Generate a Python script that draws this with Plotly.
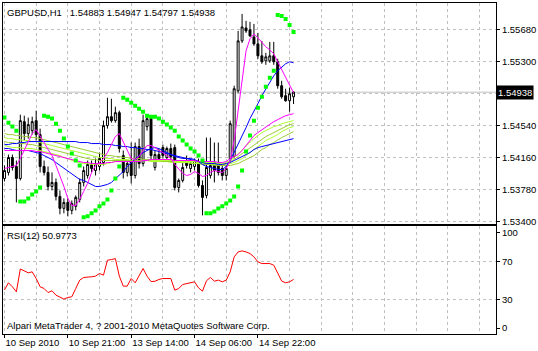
import plotly.graph_objects as go

# ---------------- data ----------------
bars = list(range(74))

open_ = [1.53910, 1.53982, 1.54160, 1.54053, 1.53910, 1.54587, 1.54445, 1.54480, 1.54599, 1.54433,
         1.54053, 1.53982, 1.53815, 1.53863, 1.53697, 1.53554, 1.53625, 1.53530, 1.53578, 1.53661,
         1.53863, 1.53946, 1.54077, 1.54005, 1.54053, 1.54100, 1.54540, 1.54646, 1.54599, 1.54694,
         1.54183, 1.53982, 1.54124, 1.53946, 1.54290, 1.54088, 1.54528, 1.54623, 1.54041, 1.54195,
         1.54278, 1.54160, 1.54267, 1.54278, 1.53803, 1.53887, 1.54124, 1.54029, 1.54053, 1.54088,
         1.53827, 1.53708, 1.53946, 1.54100, 1.54088, 1.54029, 1.53946, 1.54148, 1.54172, 1.54955,
         1.55549, 1.55703, 1.55680, 1.55596, 1.55513, 1.55371, 1.55311, 1.55311, 1.55371, 1.55300,
         1.55015, 1.54896, 1.54836, 1.54883]
high = [1.54065, 1.54195, 1.54195, 1.54124, 1.54670, 1.54658, 1.54635, 1.54646, 1.54718, 1.54504,
        1.54124, 1.54053, 1.53982, 1.53910, 1.53768, 1.53673, 1.53673, 1.53649, 1.53708, 1.53910,
        1.54053, 1.54124, 1.54124, 1.54148, 1.54219, 1.54599, 1.54872, 1.54860, 1.54765, 1.54718,
        1.54243, 1.54124, 1.54338, 1.54338, 1.54385, 1.54670, 1.54646, 1.54646, 1.54243, 1.54267,
        1.54314, 1.54290, 1.54326, 1.54314, 1.53910, 1.54124, 1.54183, 1.54124, 1.54148, 1.54148,
        1.53887, 1.54397, 1.54397, 1.54338, 1.54338, 1.54065, 1.54065, 1.54599, 1.55015, 1.55668,
        1.55870, 1.55787, 1.55775, 1.55751, 1.55644, 1.55549, 1.55406, 1.55537, 1.55537, 1.55335,
        1.55074, 1.54979, 1.54991, 1.54947]
low = [1.53875, 1.53946, 1.54005, 1.53625, 1.53887, 1.54362, 1.54385, 1.54433, 1.54362, 1.53982,
       1.53946, 1.53768, 1.53768, 1.53649, 1.53483, 1.53495, 1.53459, 1.53483, 1.53530, 1.53625,
       1.53815, 1.53910, 1.53982, 1.53946, 1.54005, 1.54065, 1.54504, 1.54575, 1.54575, 1.54219,
       1.53910, 1.53934, 1.53851, 1.53910, 1.54029, 1.54053, 1.54480, 1.54124, 1.54005, 1.54124,
       1.54148, 1.54124, 1.54124, 1.53768, 1.53744, 1.53863, 1.54029, 1.53982, 1.54005, 1.53803,
       1.53471, 1.53673, 1.53910, 1.53863, 1.53946, 1.53887, 1.53887, 1.54100, 1.54148, 1.54931,
       1.55525, 1.55644, 1.55596, 1.55490, 1.55335, 1.55276, 1.55264, 1.55288, 1.55264, 1.54979,
       1.54860, 1.54825, 1.54706, 1.54797]
close = [1.54005, 1.54160, 1.54041, 1.53910, 1.54599, 1.54445, 1.54552, 1.54587, 1.54433, 1.54053,
         1.53982, 1.53815, 1.53863, 1.53697, 1.53554, 1.53625, 1.53530, 1.53613, 1.53685, 1.53863,
         1.54005, 1.54077, 1.54029, 1.54088, 1.54148, 1.54540, 1.54646, 1.54599, 1.54694, 1.54267,
         1.53982, 1.54088, 1.53946, 1.54290, 1.54088, 1.54599, 1.54623, 1.54183, 1.54195, 1.54148,
         1.54183, 1.54267, 1.54172, 1.53803, 1.53887, 1.54041, 1.54065, 1.54088, 1.54124, 1.53827,
         1.53685, 1.54041, 1.54065, 1.54005, 1.53982, 1.53946, 1.54029, 1.54563, 1.54979, 1.55549,
         1.55715, 1.55668, 1.55608, 1.55513, 1.55371, 1.55300, 1.55359, 1.55371, 1.55300, 1.55015,
         1.54884, 1.54836, 1.54920, 1.54938]

ma_fast_magenta = [1.54029, 1.54041, 1.54053, 1.54065, 1.54148, 1.54243, 1.54350, 1.54445, 1.54492, 1.54421,
                   1.54338, 1.54255, 1.54183, 1.54065, 1.53946, 1.53815, 1.53673, 1.53590, 1.53590, 1.53661,
                   1.53756, 1.53851, 1.53982, 1.54065, 1.54100, 1.54148, 1.54219, 1.54314, 1.54409, 1.54445,
                   1.54350, 1.54243, 1.54148, 1.54136, 1.54172, 1.54243, 1.54302, 1.54302, 1.54278, 1.54243,
                   1.54219, 1.54183, 1.54148, 1.54077, 1.54017, 1.53970, 1.53946, 1.53958, 1.53993, 1.53970,
                   1.53934, 1.53946, 1.53982, 1.54005, 1.53993, 1.53982, 1.54029, 1.54124, 1.54362, 1.54718,
                   1.55133, 1.55430, 1.55573, 1.55632, 1.55585, 1.55525, 1.55478, 1.55442, 1.55395, 1.55300,
                   1.55205, 1.55110, 1.55015, 1.54931]
ma_slow_magenta = [1.54243, 1.54243, 1.54243, 1.54243, 1.54243, 1.54243, 1.54243, 1.54243, 1.54231, 1.54231,
                   1.54219, 1.54207, 1.54195, 1.54183, 1.54172, 1.54160, 1.54148, 1.54136, 1.54124, 1.54112,
                   1.54100, 1.54100, 1.54088, 1.54088, 1.54088, 1.54088, 1.54100, 1.54100, 1.54112, 1.54112,
                   1.54112, 1.54112, 1.54112, 1.54112, 1.54112, 1.54124, 1.54124, 1.54136, 1.54136, 1.54136,
                   1.54136, 1.54136, 1.54136, 1.54124, 1.54124, 1.54124, 1.54124, 1.54124, 1.54124, 1.54112,
                   1.54112, 1.54112, 1.54112, 1.54112, 1.54100, 1.54100, 1.54112, 1.54148, 1.54172, 1.54195,
                   1.54243, 1.54302, 1.54362, 1.54421, 1.54457, 1.54492, 1.54528, 1.54563, 1.54587, 1.54611,
                   1.54635, 1.54658, 1.54670, 1.54682]
ma_fast_blue = [1.54267, 1.54267, 1.54255, 1.54243, 1.54243, 1.54243, 1.54243, 1.54231, 1.54219, 1.54207,
                1.54183, 1.54160, 1.54136, 1.54100, 1.54065, 1.54029, 1.53993, 1.53958, 1.53922, 1.53898,
                1.53887, 1.53863, 1.53839, 1.53815, 1.53815, 1.53827, 1.53839, 1.53863, 1.53910, 1.53946,
                1.53993, 1.54053, 1.54100, 1.54148, 1.54183, 1.54219, 1.54243, 1.54267, 1.54278, 1.54267,
                1.54243, 1.54219, 1.54195, 1.54172, 1.54160, 1.54148, 1.54148, 1.54148, 1.54136, 1.54112,
                1.54077, 1.54053, 1.54041, 1.54029, 1.54017, 1.54017, 1.54053, 1.54124, 1.54219, 1.54326,
                1.54421, 1.54516, 1.54623, 1.54706, 1.54801, 1.54896, 1.54979, 1.55062, 1.55133, 1.55193,
                1.55240, 1.55276, 1.55300, 1.55288]
ma_slow_blue = [1.54314, 1.54314, 1.54326, 1.54326, 1.54338, 1.54338, 1.54350, 1.54350, 1.54350, 1.54350,
                1.54350, 1.54350, 1.54350, 1.54350, 1.54350, 1.54350, 1.54350, 1.54350, 1.54350, 1.54338,
                1.54338, 1.54338, 1.54326, 1.54326, 1.54326, 1.54314, 1.54314, 1.54314, 1.54302, 1.54302,
                1.54290, 1.54290, 1.54278, 1.54278, 1.54267, 1.54267, 1.54255, 1.54255, 1.54243, 1.54231,
                1.54219, 1.54207, 1.54195, 1.54183, 1.54172, 1.54160, 1.54148, 1.54136, 1.54124, 1.54112,
                1.54100, 1.54088, 1.54088, 1.54088, 1.54077, 1.54077, 1.54088, 1.54100, 1.54124, 1.54148,
                1.54172, 1.54195, 1.54219, 1.54255, 1.54278, 1.54290, 1.54302, 1.54314, 1.54326, 1.54338,
                1.54350, 1.54362, 1.54373, 1.54385]
ma_green_1 = [1.54302, 1.54290, 1.54278, 1.54278, 1.54278, 1.54267, 1.54267, 1.54267, 1.54255, 1.54243,
              1.54231, 1.54219, 1.54207, 1.54195, 1.54183, 1.54160, 1.54148, 1.54124, 1.54112, 1.54100,
              1.54088, 1.54088, 1.54077, 1.54077, 1.54077, 1.54077, 1.54088, 1.54100, 1.54112, 1.54112,
              1.54112, 1.54112, 1.54112, 1.54112, 1.54112, 1.54124, 1.54124, 1.54124, 1.54124, 1.54124,
              1.54124, 1.54124, 1.54124, 1.54112, 1.54112, 1.54112, 1.54112, 1.54112, 1.54112, 1.54100,
              1.54100, 1.54100, 1.54100, 1.54100, 1.54088, 1.54088, 1.54100, 1.54124, 1.54160, 1.54207,
              1.54255, 1.54302, 1.54350, 1.54385, 1.54421, 1.54457, 1.54480, 1.54504, 1.54528, 1.54540,
              1.54563, 1.54575, 1.54587, 1.54599]
ma_green_2 = [1.54350, 1.54338, 1.54338, 1.54326, 1.54326, 1.54326, 1.54314, 1.54314, 1.54302, 1.54290,
              1.54278, 1.54267, 1.54255, 1.54243, 1.54231, 1.54219, 1.54207, 1.54195, 1.54183, 1.54172,
              1.54160, 1.54148, 1.54136, 1.54136, 1.54124, 1.54124, 1.54124, 1.54124, 1.54124, 1.54124,
              1.54124, 1.54124, 1.54124, 1.54124, 1.54124, 1.54124, 1.54124, 1.54124, 1.54124, 1.54124,
              1.54112, 1.54112, 1.54112, 1.54112, 1.54112, 1.54112, 1.54112, 1.54112, 1.54112, 1.54100,
              1.54100, 1.54100, 1.54100, 1.54088, 1.54088, 1.54088, 1.54088, 1.54112, 1.54136, 1.54172,
              1.54207, 1.54243, 1.54278, 1.54314, 1.54350, 1.54385, 1.54409, 1.54433, 1.54457, 1.54480,
              1.54504, 1.54528, 1.54552, 1.54563]
ma_green_3 = [1.54397, 1.54385, 1.54385, 1.54373, 1.54373, 1.54362, 1.54362, 1.54350, 1.54350, 1.54338,
              1.54326, 1.54314, 1.54302, 1.54290, 1.54278, 1.54267, 1.54255, 1.54243, 1.54231, 1.54219,
              1.54207, 1.54195, 1.54183, 1.54172, 1.54160, 1.54160, 1.54148, 1.54148, 1.54136, 1.54136,
              1.54136, 1.54136, 1.54124, 1.54124, 1.54124, 1.54124, 1.54124, 1.54112, 1.54112, 1.54112,
              1.54112, 1.54112, 1.54100, 1.54100, 1.54100, 1.54100, 1.54100, 1.54100, 1.54088, 1.54088,
              1.54088, 1.54088, 1.54077, 1.54077, 1.54077, 1.54077, 1.54077, 1.54088, 1.54100, 1.54124,
              1.54148, 1.54183, 1.54219, 1.54255, 1.54290, 1.54326, 1.54362, 1.54385, 1.54409, 1.54433,
              1.54468, 1.54492, 1.54516, 1.54528]
ma_green_4 = [1.54445, 1.54433, 1.54433, 1.54421, 1.54421, 1.54409, 1.54409, 1.54397, 1.54397, 1.54385,
              1.54373, 1.54362, 1.54350, 1.54338, 1.54326, 1.54314, 1.54302, 1.54290, 1.54278, 1.54267,
              1.54255, 1.54243, 1.54231, 1.54219, 1.54207, 1.54195, 1.54183, 1.54183, 1.54172, 1.54172,
              1.54160, 1.54160, 1.54148, 1.54148, 1.54148, 1.54136, 1.54136, 1.54136, 1.54124, 1.54124,
              1.54124, 1.54112, 1.54112, 1.54112, 1.54100, 1.54100, 1.54100, 1.54088, 1.54088, 1.54088,
              1.54077, 1.54077, 1.54077, 1.54065, 1.54065, 1.54065, 1.54065, 1.54065, 1.54077, 1.54088,
              1.54112, 1.54136, 1.54160, 1.54183, 1.54219, 1.54255, 1.54278, 1.54314, 1.54338, 1.54373,
              1.54397, 1.54421, 1.54445, 1.54468]
sar = [1.54635, 1.54575, 1.54528, 1.54480, 1.53637, 1.53637, 1.53673, 1.53720, 1.53756, 1.53803,
       1.54658, 1.54646, 1.54623, 1.54563, 1.54480, 1.54385, 1.54290, 1.54207, 1.54124, 1.54065,
       1.53447, 1.53459, 1.53495, 1.53530, 1.53578, 1.53613, 1.53661, 1.53768, 1.53910, 1.54053,
       1.54872, 1.54848, 1.54813, 1.54777, 1.54741, 1.54706, 1.54658, 1.54646, 1.54646, 1.54623,
       1.54587, 1.54552, 1.54516, 1.54480, 1.54409, 1.54362, 1.54314, 1.54267, 1.54231, 1.54183,
       1.54124, 1.53495, 1.53495, 1.53518, 1.53554, 1.53578, 1.53613, 1.53649, 1.53697, 1.53815,
       1.54005, 1.54231, 1.54421, 1.54599, 1.54753, 1.54884, 1.55003, 1.55110, 1.55193, 1.55858,
       1.55846, 1.55810, 1.55739, 1.55656]
rsi = [40.0, 47.5, 43.3, 38.0, 62.0, 60.4, 58.0, 59.0, 52.0, 43.3,
       41.5, 37.3, 39.1, 34.5, 32.1, 30.4, 32.1, 32.8, 41.5, 50.3,
       53.1, 53.1, 53.8, 54.5, 57.3, 55.5, 71.2, 71.9, 72.9, 54.5,
       44.0, 44.0, 52.0, 47.5, 55.5, 62.5, 54.5, 48.8, 49.1, 51.0,
       52.0, 52.0, 52.0, 39.8, 41.5, 45.7, 46.7, 47.5, 48.5, 42.2,
       38.7, 49.6, 53.1, 49.2, 50.3, 48.5, 50.3, 59.0, 74.7, 79.9,
       81.0, 79.9, 78.2, 74.7, 69.5, 67.7, 67.7, 67.7, 66.0, 57.3,
       49.3, 47.5, 48.5, 50.9773]

price_ticks = [1.53400, 1.53780, 1.54160, 1.54540, 1.54920, 1.55300, 1.55680]
price_tick_text = ["1.53400", "1.53780", "1.54160", "1.54540", "", "1.55300", "1.55680"]
time_tick_bars = [0, 16, 32, 48, 64]
time_tick_text = ["10 Sep 2010", "10 Sep 21:00", "13 Sep 14:00", "14 Sep 06:00", "14 Sep 22:00"]
rsi_ticks = [0, 30, 70, 100]
rsi_levels = [30, 70]

symbol = "GBPUSD,H1"
rsi_name = "RSI(12)"
copyright_text = "Alpari MetaTrader 4, ? 2001-2010 MetaQuotes Software Corp."

# ---------------- figure ----------------
GRID = "#c0c0c0"
DASH = "3px,3px"
FONT = "Liberation Sans, Arial, sans-serif"
FS = 9.5
SP = "\u00a0"

fig = go.Figure()

fig.add_trace(go.Candlestick(
    x=bars, open=open_, high=high, low=low, close=close,
    xaxis="x", yaxis="y",
    increasing=dict(line=dict(color="black", width=1), fillcolor="white"),
    decreasing=dict(line=dict(color="black", width=1), fillcolor="black"),
    whiskerwidth=0, showlegend=False, hoverinfo="skip"))

for series, col in [(ma_green_4, "#9ACD32"), (ma_green_3, "#ADFF2F"),
                    (ma_green_2, "#9ACD32"), (ma_green_1, "#ADFF2F"),
                    (ma_slow_blue, "#0000FF"), (ma_fast_blue, "#0000FF"),
                    (ma_slow_magenta, "#FF00FF"), (ma_fast_magenta, "#FF00FF")]:
    fig.add_trace(go.Scatter(x=bars, y=series, mode="lines", xaxis="x", yaxis="y",
                             line=dict(color=col, width=1), showlegend=False, hoverinfo="skip"))

fig.add_trace(go.Scatter(x=bars, y=sar, mode="markers", xaxis="x", yaxis="y",
                         marker=dict(symbol="square", size=4, color="#00FF00", line=dict(width=0)),
                         showlegend=False, hoverinfo="skip"))

fig.add_trace(go.Scatter(x=bars, y=rsi, mode="lines", xaxis="x2", yaxis="y2",
                         line=dict(color="#FF0000", width=1), showlegend=False, hoverinfo="skip"))

xrange = [-0.375, 124.125]
axis_common = dict(showline=True, mirror=True, linecolor="black", linewidth=1, zeroline=False,
                   gridcolor=GRID, griddash=DASH, gridwidth=1, fixedrange=True)

fig.update_layout(
    width=538, height=351,
    margin=dict(l=2, r=38, t=2, b=17),
    paper_bgcolor="white", plot_bgcolor="white",
    font=dict(family=FONT, size=FS, color="black"),
    showlegend=False, hovermode=False,
    xaxis=dict(domain=[0, 1], anchor="y", range=xrange, tickvals=time_tick_bars,
               showticklabels=False, ticks="", showgrid=True,
               minor=dict(dtick=8, tick0=0, showgrid=True, gridcolor=GRID, griddash=DASH, ticks=""),
               rangeslider=dict(visible=False), **axis_common),
    yaxis=dict(domain=[0.3313, 1], anchor="x", side="right", range=[1.53364, 1.56000],
               tickvals=price_ticks, ticktext=price_tick_text, ticks="outside", ticklen=3,
               tickcolor="black", showgrid=True, **axis_common),
    xaxis2=dict(domain=[0, 1], anchor="y2", range=xrange, matches="x", tickvals=time_tick_bars,
                ticktext=time_tick_text, ticks="outside", ticklen=3, tickcolor="black",
                tickangle=0, ticklabelposition="outside right", showgrid=True,
                minor=dict(dtick=8, tick0=0, showgrid=True, gridcolor=GRID, griddash=DASH, ticks=""),
                **axis_common),
    yaxis2=dict(domain=[0, 0.3253], anchor="x2", side="right", range=[-6.28, 106.8],
                tickvals=rsi_ticks, ticks="outside", ticklen=3, tickcolor="black", showgrid=False,
                minor=dict(tickvals=rsi_levels, showgrid=True, gridcolor=GRID, griddash=DASH, ticks=""),
                **axis_common),
)

fig.add_shape(type="line", xref="x domain", x0=0, x1=1, yref="y", y0=close[-1], y1=close[-1],
              line=dict(color="#c0c0c0", width=1), layer="below")

header = (f"{symbol}{SP*3}{open_[-1]:.5f}{SP}{high[-1]:.5f}{SP}"
          f"{low[-1]:.5f}{SP}{close[-1]:.5f}")
fig.add_annotation(xref="paper", yref="paper", x=0.004, y=0.9714, xanchor="left", yanchor="middle",
                   showarrow=False, text=header, font=dict(family=FONT, size=FS, color="black"))
fig.add_annotation(xref="paper", yref="paper", x=0.004, y=0.2967, xanchor="left", yanchor="middle",
                   showarrow=False, text=f"{rsi_name} {rsi[-1]:.4f}",
                   font=dict(family=FONT, size=FS, color="black"))
fig.add_annotation(xref="paper", yref="paper", x=0.004, y=0.0256, xanchor="left", yanchor="middle",
                   showarrow=False, text=copyright_text,
                   font=dict(family=FONT, size=FS, color="black"))
fig.add_annotation(xref="paper", yref="y", x=1.0, y=close[-1], xanchor="left", yanchor="middle",
                   showarrow=False, text=f"{close[-1]:.5f}", bgcolor="black", borderpad=1,
                   font=dict(family=FONT, size=FS, color="white"))

fig.write_html("out.html")
